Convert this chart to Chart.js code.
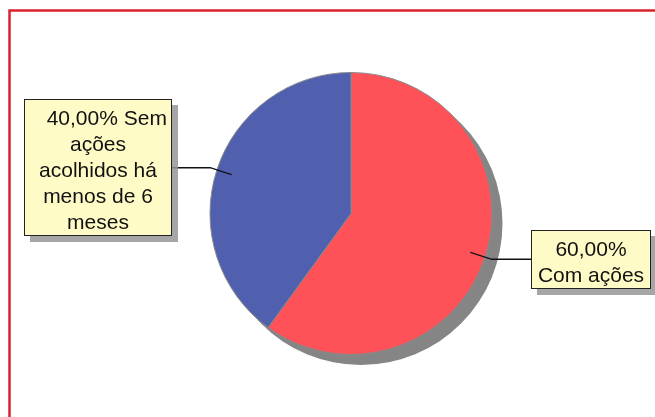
<!DOCTYPE html>
<html>
<head>
<meta charset="utf-8">
<script src="https://cdn.jsdelivr.net/npm/chart.js@4/dist/chart.umd.min.js"></script>
<style>
  html, body { margin: 0; padding: 0; background: #fff; }
  canvas { display: block; }
</style>
</head>
<body>
<canvas id="c" width="655" height="417"></canvas>
<script>
// ---- data ----
const categories = ['Com ações', 'Sem ações acolhidos há menos de 6 meses'];
const values = [60, 40];
const sliceColors = ['#FF5158', '#5060AE'];
// wrapped label text, {p} = percentage
const labelLines = [
  ['{p}', 'Com ações'],
  ['   {p} Sem', 'ações', 'acolhidos há', 'menos de 6', 'meses']
];

const total = values.reduce((a, b) => a + b, 0);
const pct = v => (v / total * 100).toFixed(2).replace('.', ',') + '%';

const framePlugin = {
  id: 'frame',
  beforeDraw(chart) {
    const ctx = chart.ctx;
    ctx.save();
    ctx.fillStyle = '#ffffff';
    ctx.fillRect(0, 0, chart.width, chart.height);
    ctx.strokeStyle = '#D9232E';
    ctx.lineWidth = 2.5;
    ctx.strokeRect(9.5, 10.5, chart.width + 20, chart.height + 20);
    ctx.restore();
  }
};

const shadowPlugin = {
  id: 'pieShadow',
  beforeDatasetsDraw(chart, args, opts) {
    const arc = chart.getDatasetMeta(0).data[0];
    if (!arc) return;
    const { x, y, outerRadius } = arc.getProps(['x', 'y', 'outerRadius'], true);
    const ctx = chart.ctx;
    ctx.save();
    ctx.fillStyle = opts.color;
    ctx.beginPath();
    ctx.arc(x + opts.dx, y + opts.dy, outerRadius + 0.5, 0, Math.PI * 2);
    ctx.fill();
    ctx.restore();
  }
};

const calloutPlugin = {
  id: 'callouts',
  afterDatasetsDraw(chart, args, opts) {
    const ctx = chart.ctx;
    const meta = chart.getDatasetMeta(0);
    meta.data.forEach((arc, i) => {
      const p = arc.getProps(['x', 'y', 'startAngle', 'endAngle', 'outerRadius'], true);
      const mid = (p.startAngle + p.endAngle) / 2;
      const cx = Math.cos(mid), sy = Math.sin(mid);
      const ax = p.x + cx * p.outerRadius * opts.anchor, ay = p.y + sy * p.outerRadius * opts.anchor;
      const ex = p.x + cx * p.outerRadius * opts.elbow, ey = p.y + sy * p.outerRadius * opts.elbow;
      const box = opts.boxes[i];
      const edgeX = cx < 0 ? box.x + box.w : box.x;

      ctx.save();
      // leader line
      ctx.strokeStyle = '#111';
      ctx.lineWidth = 1.3;
      ctx.beginPath();
      ctx.moveTo(ax, ay);
      ctx.lineTo(ex, ey);
      ctx.lineTo(edgeX, ey);
      ctx.stroke();

      // box shadow
      ctx.fillStyle = 'rgba(150,150,150,0.85)';
      ctx.fillRect(box.x + 6, box.y + 6, box.w, box.h);
      // box
      ctx.fillStyle = '#FFFBC6';
      ctx.fillRect(box.x, box.y, box.w, box.h);
      ctx.strokeStyle = '#222';
      ctx.lineWidth = 1;
      ctx.strokeRect(box.x + 0.5, box.y + 0.5, box.w - 1, box.h - 1);

      // text
      const lines = labelLines[i].map(s => s.replace('{p}', pct(values[i])));
      ctx.fillStyle = '#111';
      ctx.font = '21px "Liberation Sans", Arial, sans-serif';
      ctx.textAlign = 'center';
      ctx.textBaseline = 'alphabetic';
      const lh = 26;
      const centerY = box.y + box.h / 2;
      const firstY = centerY - (lines.length - 1) * lh / 2 + 9.5;
      lines.forEach((t, k) => ctx.fillText(t, box.x + box.w / 2, firstY + k * lh));
      ctx.restore();
    });
  }
};

new Chart(document.getElementById('c'), {
  type: 'pie',
  data: {
    labels: categories,
    datasets: [{
      data: values,
      backgroundColor: sliceColors,
      borderColor: '#8a8a8a',
      borderWidth: 1
    }]
  },
  options: {
    responsive: false,
    animation: false,
    layout: { padding: { left: 70, right: 23, top: 72, bottom: 62 } },
    plugins: {
      legend: { display: false },
      tooltip: { enabled: false },
      pieShadow: { color: '#858585', dx: 10, dy: 10 },
      callouts: {
        anchor: 0.89,
        elbow: 1.05,
        boxes: [
          { x: 531, y: 230, w: 120, h: 59 },
          { x: 24, y: 99, w: 148, h: 137 }
        ]
      }
    }
  },
  plugins: [framePlugin, shadowPlugin, calloutPlugin]
});
</script>
</body>
</html>
